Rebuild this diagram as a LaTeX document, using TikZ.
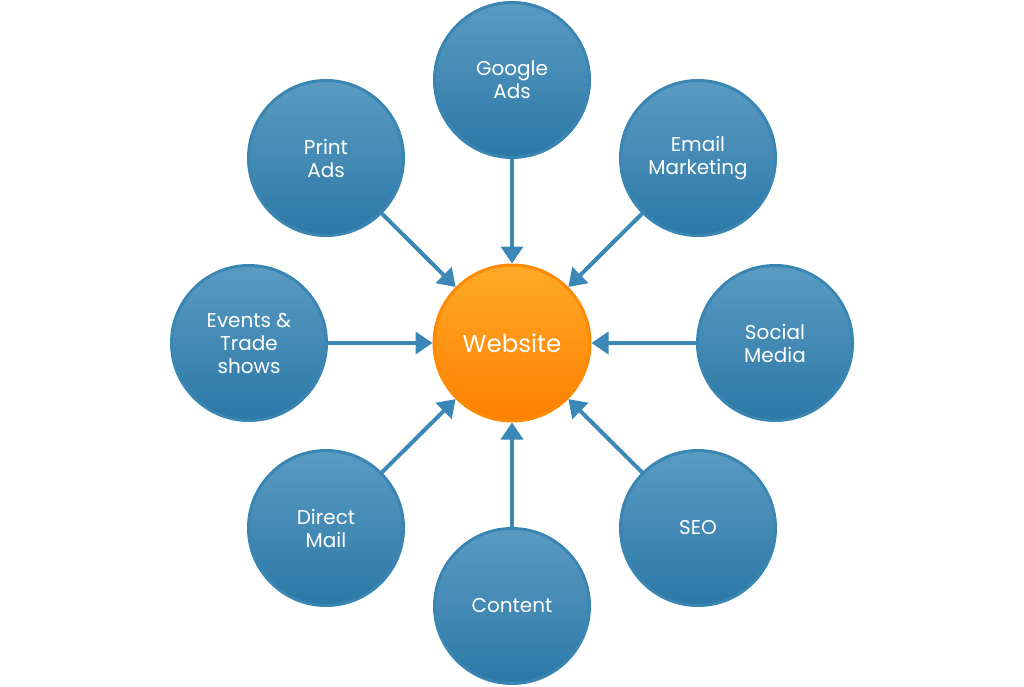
\documentclass[tikz,border=0pt]{standalone}
\usepackage{fontspec}
\setmainfont{Poppins}
\usetikzlibrary{arrows.meta,positioning}
\definecolor{chantop}{HTML}{5A9BC2}
\definecolor{chanbot}{HTML}{2C78A6}
\definecolor{chanedge}{HTML}{3A86B3}
\definecolor{webtop}{HTML}{FFA928}
\definecolor{webbot}{HTML}{FF8000}
\definecolor{webedge}{HTML}{FF8A05}
\definecolor{feedline}{HTML}{3B88B6}

\begin{document}
\begin{tikzpicture}[x=1pt,y=-1pt,font=\fontsize{20}{23}\selectfont,
 chan/.style={circle,draw=chanedge,line width=3pt,top color=chantop,bottom color=chanbot,
  minimum size=155pt,inner sep=0pt,align=center,text=white},
 web/.style={circle,draw=webedge,line width=3pt,top color=webtop,bottom color=webbot,
  minimum size=156pt,inner sep=0pt,align=center,text=white,font=\fontsize{24.5}{28}\selectfont},
 feed/.style={line width=4pt,draw=feedline,-{Triangle[length=17pt,width=22pt]}}]
\useasboundingbox (0,0) rectangle (1024,687);
\node[web] (website) at (512,343) {Website};
\node[chan] (google) at (512,80) {Google\\Ads};
\node[chan] (email) at (698,158) {Email\\Marketing};
\node[chan] (social) at (775,343) {Social\\Media};
\node[chan] (seo) at (698,528) {SEO};
\node[chan] (content) at (512,606) {Content};
\node[chan] (mail) at (326,528) {Direct\\Mail};
\node[chan] (events) at (249,343) {Events \&\\Trade\\shows};
\node[chan] (print) at (326,158) {Print\\Ads};
\draw[feed] (google)--(website);\draw[feed] (email)--(website);
\draw[feed] (social)--(website);\draw[feed] (seo)--(website);
\draw[feed] (content)--(website);\draw[feed] (mail)--(website);
\draw[feed] (events)--(website);\draw[feed] (print)--(website);
\end{tikzpicture}
\end{document}
